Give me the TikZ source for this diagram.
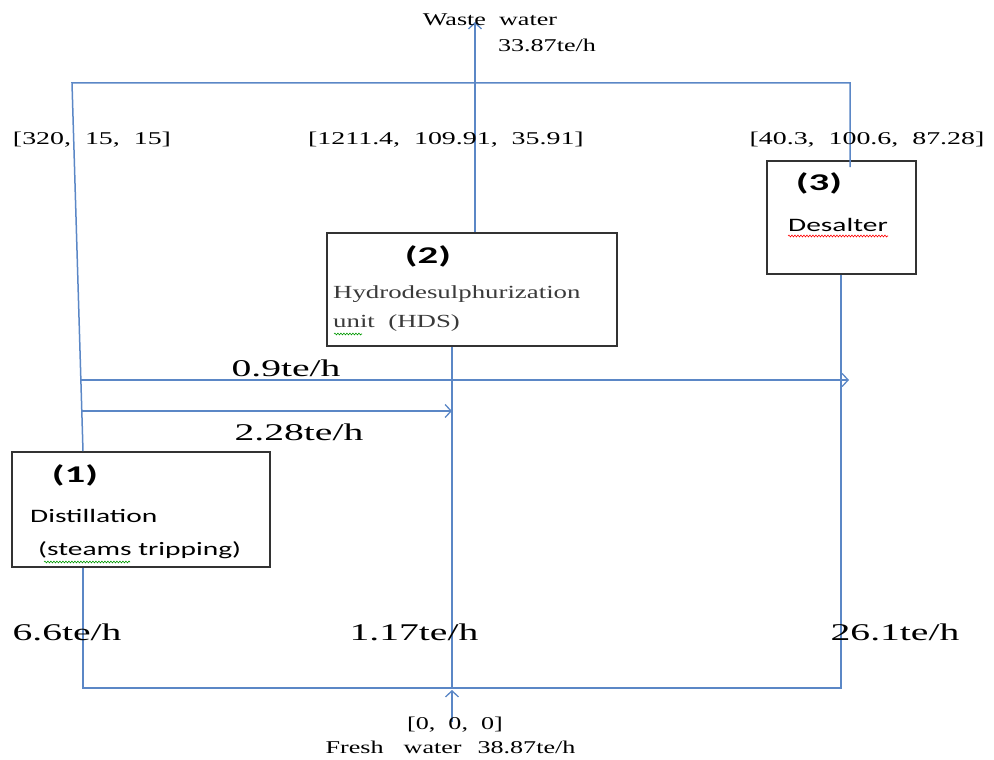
\documentclass[tikz,border=0pt]{standalone}
\usepackage{fontspec}
\setmainfont{Liberation Serif}
\newfontfamily\calib{Carlito}
\usetikzlibrary{arrows.meta,decorations.pathmorphing,calc}
\definecolor{flow}{HTML}{5B87C6}
\definecolor{boxc}{HTML}{333333}
\definecolor{hdsc}{HTML}{3A3A3A}
\newcommand{\sx}[1]{\scalebox{1.45}[1]{#1}}
\newcommand{\sxb}[1]{\scalebox{1.55}[1]{#1}}
\newcommand{\sxbig}[1]{\scalebox{1.65}[1]{#1}}
\newcommand{\sxnum}[1]{\scalebox{1.7}[1]{#1}}
\tikzset{
  flowline/.style={draw=flow, line width=1.5pt},
  flowarrow/.style={flowline, -{Straight Barb[length=6pt,width=13pt,line width=1.3pt]}},
  unitbox/.style={draw=boxc, line width=1.6pt, fill=white, inner sep=0},
  lbl/.style={inner sep=0, font=\fontsize{18}{20}\selectfont},
  biglbl/.style={inner sep=0, font=\fontsize{24}{27}\selectfont},
  numlbl/.style={inner sep=0, font=\calib\bfseries\fontsize{24}{27}\selectfont},
  sanslbl/.style={inner sep=0, font=\calib\fontsize{19}{22}\selectfont},
  hdslbl/.style={inner sep=0, text=hdsc, font=\fontsize{18.5}{20}\selectfont},
  squig/.style={line width=0.6pt, decorate, decoration={snake, amplitude=0.9pt, segment length=3pt}}
}
\begin{document}
\begin{tikzpicture}[x=1pt,y=-1pt]
\useasboundingbox (0,0) rectangle (994,760);
% units
\node[unitbox, minimum width=258pt, minimum height=115pt] (b1) at (141,509.5) {};
\node[unitbox, minimum width=290pt, minimum height=113pt] (b2) at (472,289.5) {};
\node[unitbox, minimum width=149pt, minimum height=113pt] (b3) at (841.5,217.5) {};
% helper coordinates
\coordinate (x1) at (83,0);
\coordinate (x2) at (452,0);
\coordinate (x2w) at (475,0);
\coordinate (x3) at (841,0);
\coordinate (x3t) at (850,0);
\coordinate (yb) at (0,688);
\coordinate (tl) at (72,83);
\coordinate (tr) at (850,83);
\coordinate (ww) at (475,22);
\coordinate (fw) at (452,722);
\coordinate (a09s) at (81,380);
\coordinate (a09e) at (849,380);
\coordinate (a228s) at (82,411);
\coordinate (a228e) at (452,411);
% connectors
\draw[flowline] (b1.north -| x1) -- (tl) -- (tr) -- ($(b3.north -| x3t)+(0,7)$);
\draw[flowarrow] (b2.north -| x2w) -- (ww);
\draw[flowline] (b1.south -| x1) -- (x1 |- yb) -- (x3 |- yb) -- (b3.south -| x3);
\draw[flowline] (b2.south -| x2) -- (x2 |- yb);
\draw[flowarrow] (fw) -- ($(x2 |- yb)+(0,2)$);
\draw[flowarrow] (a09s) -- (a09e);
\draw[flowarrow] (a228s) -- (a228e);
% top texts
\node[lbl] (tww) at (490,20) {\sx{Waste\ \ water}};
\node[lbl] (twwq) at (547,45) {\sx{33.87te/h}};
\node[lbl] (c1) at (92,140) {\sxb{[320,\ \ 15,\ \ 15]}};
\node[lbl] (c2) at (446,140) {\sxb{[1211.4,\ \ 109.91,\ \ 35.91]}};
\node[lbl] (c3) at (867,140) {\sxb{[40.3,\ \ 100.6,\ \ 87.28]}};
% box 3
\node[numlbl] (n3) at (819,183) {\sxnum{(3)}};
\node[sanslbl, anchor=west] (t3) at (788,225) {\sxb{Desalter}};
\draw[squig, red] (788,236) -- (888,236);
% box 2
\node[numlbl] (n2) at (428,256) {\sxnum{(2)}};
\node[hdslbl, anchor=west] (t2a) at (333,294) {\sx{Hydrodesulphurization}};
\node[hdslbl, anchor=west] (t2b) at (333,323) {\sx{unit\ \ (HDS)}};
\draw[squig, green!60!black] (334,334) -- (362,334);
% flows
\node[biglbl] (f09) at (286,368) {\sxbig{0.9te/h}};
\node[biglbl] (f228) at (299,432) {\sxbig{2.28te/h}};
% box 1
\node[numlbl] (n1) at (75,475) {\sxnum{(1)}};
\node[sanslbl, anchor=west] (t1a) at (30,516) {\sxb{Distillation}};
\node[sanslbl, anchor=west] (t1b) at (38,550) {\sxb{(steams tripping)}};
\draw[squig, green!60!black] (44,562) -- (130,562);
% bottom
\node[biglbl] (q1) at (67,632) {\sxbig{6.6te/h}};
\node[biglbl] (q2) at (414,632) {\sxbig{1.17te/h}};
\node[biglbl] (q3) at (895,632) {\sxbig{26.1te/h}};
\node[lbl] (fz) at (455,725) {\sx{[0,\ \ 0,\ \ 0]}};
\node[lbl] (fwt) at (450.5,747) {\sx{Fresh\hspace{0.77em}water\hspace{0.61em}38.87te/h}};
\end{tikzpicture}
\end{document}
